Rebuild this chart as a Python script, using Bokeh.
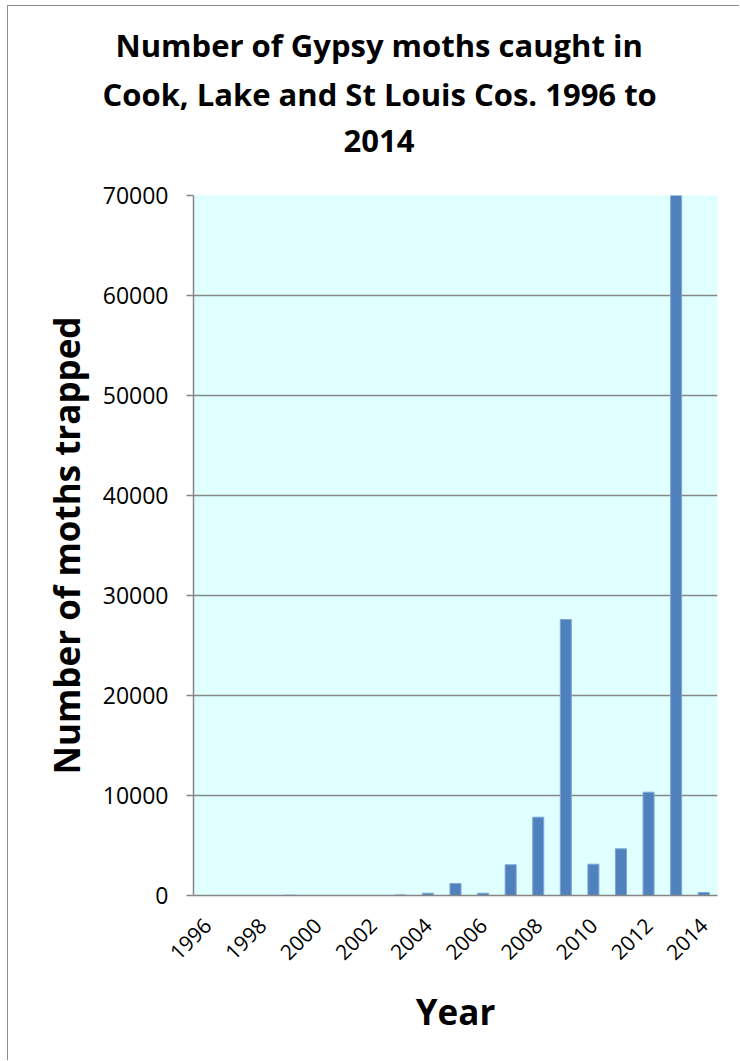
import math
from bokeh.plotting import figure
from bokeh.models import Range1d, FixedTicker, Title, ColumnDataSource
from bokeh.embed import file_html
from bokeh.resources import INLINE

# ---- data ----
years = list(range(1996, 2015))
moths = [0, 0, 0, 40, 0, 0, 0, 60, 230, 1200, 230, 3070, 7830, 27600,
         3130, 4670, 10330, 70000, 300]
x_ticks = [1996, 1998, 2000, 2002, 2004, 2006, 2008, 2010, 2012, 2014]
y_ticks = [0, 10000, 20000, 30000, 40000, 50000, 60000, 70000]
title_lines = ["Number of Gypsy moths caught in",
               "Cook, Lake and St Louis Cos. 1996 to",
               "2014"]
x_title = "Year"
y_title = "Number of moths trapped"

FONT = "Open Sans"
GRAY = "#868686"

src = ColumnDataSource(dict(years=years, moths=moths))

p = figure(width=732, height=1055,
           x_range=Range1d(years[0] - 0.5, years[-1] + 0.5),
           y_range=Range1d(y_ticks[0], y_ticks[-1]),
           output_backend="svg", toolbar_location=None, title=None)
p.styles = {"margin-left": "8px", "margin-top": "6px",
            "box-shadow": "-1px -1px 0 0 #8c8c8c"}

p.min_border_left = 185
p.min_border_right = 23
p.min_border_top = 189
p.min_border_bottom = 166

p.background_fill_color = "#E0FFFF"
p.border_fill_color = "white"
p.outline_line_color = None

p.vbar(x="years", top="moths", bottom=0, width=0.4, source=src,
       fill_color="#4F81BD", line_color="#7EA6D6", line_width=1)

# grid
p.xgrid.grid_line_color = None
p.ygrid.grid_line_color = GRAY
p.ygrid.grid_line_width = 1.5
p.ygrid.ticker = FixedTicker(ticks=y_ticks)

# y axis
ya = p.yaxis[0]
ya.ticker = FixedTicker(ticks=y_ticks)
ya.axis_line_color = GRAY
ya.axis_line_width = 1.5
ya.major_tick_line_color = GRAY
ya.major_tick_line_width = 1.5
ya.major_tick_out = 7
ya.major_tick_in = 0
ya.minor_tick_line_color = None
ya.major_label_standoff = 18
ya.major_label_text_font = FONT
ya.major_label_text_font_size = "23px"
ya.major_label_text_color = "black"
ya.axis_label = y_title
ya.axis_label_text_font = FONT
ya.axis_label_text_font_style = "bold"
ya.axis_label_text_font_size = "35px"
ya.axis_label_text_color = "black"
ya.axis_label_standoff = 10

# x axis
xa = p.xaxis[0]
xa.ticker = FixedTicker(ticks=x_ticks)
xa.axis_line_color = GRAY
xa.axis_line_width = 1.5
xa.major_tick_line_color = None
xa.minor_tick_line_color = None
xa.major_label_orientation = math.pi / 4
xa.major_label_standoff = 20
xa.major_label_text_font = FONT
xa.major_label_text_font_size = "21px"
xa.major_label_text_color = "black"
xa.axis_label = x_title
xa.axis_label_text_font = FONT
xa.axis_label_text_font_style = "bold"
xa.axis_label_text_font_size = "35px"
xa.axis_label_text_color = "black"
xa.axis_label_standoff = 18

# title: three centred lines, stacked above the plot (nearest first)
p.add_layout(Title(text=" ", text_font_size="1px", standoff=30), "above")
title_offsets = [-78, -91, 150]
title_standoffs = [6, 4, 22]
for line, off, so in reversed(list(zip(title_lines, title_offsets, title_standoffs))):
    p.add_layout(Title(text=line, align="left", offset=off, standoff=so,
                       text_font=FONT, text_font_style="bold",
                       text_font_size="31px", text_color="black"), "above")

open("out.html", "w").write(file_html(p, INLINE))
